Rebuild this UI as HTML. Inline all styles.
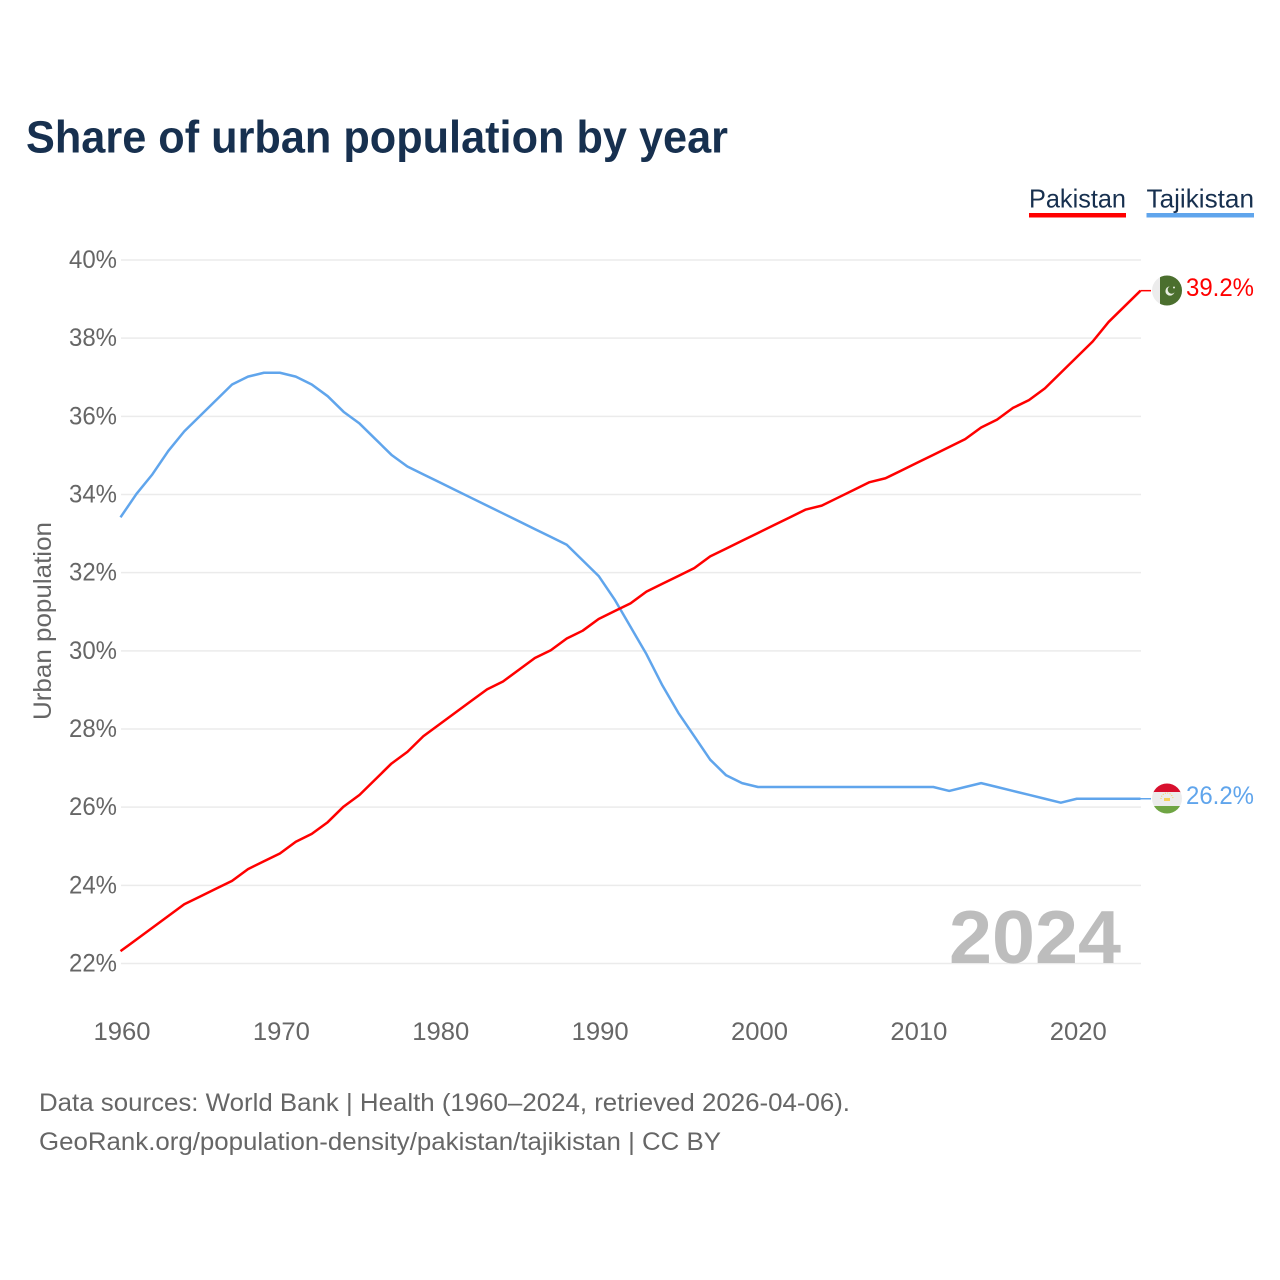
<!DOCTYPE html>
<html lang="en">
<head>
<meta charset="utf-8">
<title>Share of urban population by year</title>
<style>
  html, body { margin: 0; padding: 0; background: #fff; }
  svg { display: block; font-family: "Liberation Sans", sans-serif; }
</style>
</head>
<body>
<svg id="chart" width="1280" height="1280" viewBox="0 0 1280 1280" xmlns="http://www.w3.org/2000/svg">
  <defs>
    <clipPath id="flag-clip-pk"><circle cx="1167" cy="290.5" r="15"/></clipPath>
    <clipPath id="flag-clip-tj"><circle cx="1167" cy="798.5" r="15"/></clipPath>
  </defs>
  <rect x="0" y="0" width="1280" height="1280" fill="#ffffff"/>
  <text x="26" y="152.5" font-size="45" font-weight="700" fill="#17304f" textLength="702" lengthAdjust="spacingAndGlyphs">Share of urban population by year</text>

  <g>
    <text x="1029" y="207.5" font-size="26" fill="#17304f" textLength="97" lengthAdjust="spacingAndGlyphs">Pakistan</text>
    <rect x="1029" y="213" width="97" height="4.5" fill="#ff0000"/>
  </g>
  <g>
    <text x="1146.5" y="207.5" font-size="26" fill="#17304f" textLength="107.5" lengthAdjust="spacingAndGlyphs">Tajikistan</text>
    <rect x="1146.5" y="213" width="107.5" height="4.5" fill="#60a5ec"/>
  </g>

  <g id="grid"></g>
  <g id="y-ticks"></g>
  <g id="x-ticks"></g>
  <text transform="translate(51 621) rotate(-90)" text-anchor="middle" font-size="25" fill="#666666" textLength="198" lengthAdjust="spacingAndGlyphs">Urban population</text>

  <text x="949" y="963" font-size="75" font-weight="700" fill="#bdbdbd" textLength="172" lengthAdjust="spacingAndGlyphs">2024</text>

  <g id="series"></g>

  <g clip-path="url(#flag-clip-pk)">
    <rect x="1152" y="275" width="30" height="31" fill="#ececec"/>
    <rect x="1160" y="275" width="22" height="31" fill="#4b6f2e"/>
    <circle cx="1170" cy="291" r="4.6" fill="#e8eee2"/>
    <circle cx="1171.6" cy="289.8" r="3.9" fill="#4b6f2e"/>
    <circle cx="1174" cy="287.5" r="1" fill="#e8eee2"/>
  </g>
  <g clip-path="url(#flag-clip-tj)">
    <rect x="1152" y="783" width="30" height="10" fill="#d8102e"/>
    <rect x="1152" y="792" width="30" height="14" fill="#ececec"/>
    <rect x="1152" y="806" width="30" height="9" fill="#6fa544"/>
    <rect x="1164" y="798" width="6" height="3" fill="#f5cf5a"/>
    <path d="M1161 799 A6 6 0 0 1 1173 799" fill="none" stroke="#f5cf5a" stroke-width="1" stroke-dasharray="1 1.4"/>
  </g>

  <text x="1186" y="296" font-size="25" fill="#ff0000" textLength="68" lengthAdjust="spacingAndGlyphs">39.2%</text>
  <text x="1186" y="804" font-size="25" fill="#60a5ec" textLength="68" lengthAdjust="spacingAndGlyphs">26.2%</text>

  <text x="39" y="1111" font-size="25" fill="#666666" textLength="811" lengthAdjust="spacingAndGlyphs">Data sources: World Bank | Health (1960–2024, retrieved 2026-04-06).</text>
  <text x="39" y="1150" font-size="25" fill="#666666" textLength="682" lengthAdjust="spacingAndGlyphs">GeoRank.org/population-density/pakistan/tajikistan | CC BY</text>
</svg>
<script>
var years = [1960,1961,1962,1963,1964,1965,1966,1967,1968,1969,1970,1971,1972,1973,1974,1975,1976,1977,1978,1979,1980,1981,1982,1983,1984,1985,1986,1987,1988,1989,1990,1991,1992,1993,1994,1995,1996,1997,1998,1999,2000,2001,2002,2003,2004,2005,2006,2007,2008,2009,2010,2011,2012,2013,2014,2015,2016,2017,2018,2019,2020,2021,2022,2023,2024];
var pakistanValues = [22.3,22.6,22.9,23.2,23.5,23.7,23.9,24.1,24.4,24.6,24.8,25.1,25.3,25.6,26.0,26.3,26.7,27.1,27.4,27.8,28.1,28.4,28.7,29.0,29.2,29.5,29.8,30.0,30.3,30.5,30.8,31.0,31.2,31.5,31.7,31.9,32.1,32.4,32.6,32.8,33.0,33.2,33.4,33.6,33.7,33.9,34.1,34.3,34.4,34.6,34.8,35.0,35.2,35.4,35.7,35.9,36.2,36.4,36.7,37.1,37.5,37.9,38.4,38.8,39.2];
var tajikistanValues = [33.4,34.0,34.5,35.1,35.6,36.0,36.4,36.8,37.0,37.1,37.1,37.0,36.8,36.5,36.1,35.8,35.4,35.0,34.7,34.5,34.3,34.1,33.9,33.7,33.5,33.3,33.1,32.9,32.7,32.3,31.9,31.3,30.6,29.9,29.1,28.4,27.8,27.2,26.8,26.6,26.5,26.5,26.5,26.5,26.5,26.5,26.5,26.5,26.5,26.5,26.5,26.5,26.4,26.5,26.6,26.5,26.4,26.3,26.2,26.1,26.2,26.2,26.2,26.2,26.2];
var yTickValues = [22,24,26,28,30,32,34,36,38,40];
var xTickValues = [1960,1970,1980,1990,2000,2010,2020];

var SVG_NS = 'http://www.w3.org/2000/svg';
function xScale(year) { return 121 + (year - 1960) * (1141 - 121) / 64; }
function yScale(value) { return 963.5 - (value - 22) * (963.5 - 260) / 18; }
function make(tag, attrs, parent) {
  var el = document.createElementNS(SVG_NS, tag);
  for (var k in attrs) { el.setAttribute(k, attrs[k]); }
  parent.appendChild(el);
  return el;
}

var gridGroup = document.getElementById('grid');
var yGroup = document.getElementById('y-ticks');
yTickValues.forEach(function (v) {
  var line = make('line', { x1: 121, x2: 1141, y1: yScale(v), y2: yScale(v), stroke: '#ebebeb', 'stroke-width': 1.5 }, gridGroup);
  
  
  var label = make('text', { x: 117, y: yScale(v) + 8, 'text-anchor': 'end', 'font-size': 25, fill: '#666666', textLength: 48, lengthAdjust: 'spacingAndGlyphs' }, yGroup);
  
  
  label.textContent = v + '%';
});

var xGroup = document.getElementById('x-ticks');
xTickValues.forEach(function (year) {
  var label = make('text', { x: xScale(year) + 1, y: 1040, 'text-anchor': 'middle', 'font-size': 25, fill: '#666666', textLength: 57, lengthAdjust: 'spacingAndGlyphs' }, xGroup);
  
  
  label.textContent = year;
});

function drawSeries(values, color, name) {
  var group = document.getElementById('series');
  var pts = values.map(function (v, i) { return (xScale(years[i]) - 0.5).toFixed(2) + ',' + (yScale(v) - 0.6).toFixed(2); });
  var lastY = yScale(values[values.length - 1]) - 0.6;
  var path = make('polyline', { points: pts.join(' '), fill: 'none', stroke: color, 'stroke-width': 2.5, 'stroke-linejoin': 'round' }, group);
  
  
  var lead = make('line', { x1: 1140.5, x2: 1151, y1: lastY, y2: lastY, stroke: color, 'stroke-width': 1.5 }, group);
  
  
}
drawSeries(tajikistanValues, '#60a5ec', 'tajikistan');
drawSeries(pakistanValues, '#ff0000', 'pakistan');
</script>
</body>
</html>
